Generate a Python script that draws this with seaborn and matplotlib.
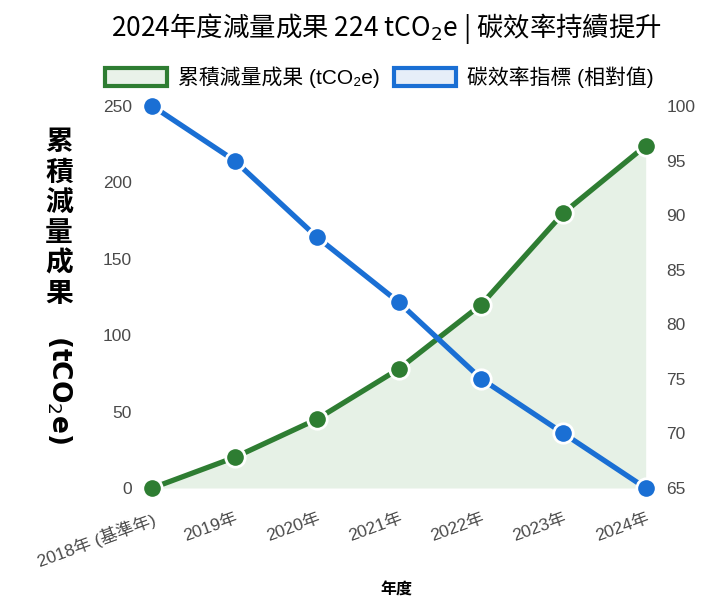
import matplotlib
matplotlib.use("Agg")
import matplotlib.pyplot as plt
from matplotlib.patches import Patch
import seaborn as sns
import pandas as pd

# Data
years = ["2018年 (基準年)", "2019年", "2020年", "2021年", "2022年", "2023年", "2024年"]
reduction = [0, 20, 45, 78, 120, 180, 224]          # cumulative reduction, tCO2e
efficiency = [100, 95, 88, 82, 75, 70, 65]          # carbon efficiency index (relative)
left_ticks = [0, 50, 100, 150, 200, 250]
right_ticks = [65, 70, 75, 80, 85, 90, 95, 100]

GREEN = "#2e7d32"
BLUE = "#1a6fd4"
FILL = "#e6f1e6"
TICK_GRAY = "#4a4a4a"

sns.set_theme(style="white")
CJK = ["Noto Sans CJK TC", "DejaVu Sans"]
LAT = ["Liberation Sans", "Noto Sans CJK TC", "DejaVu Sans"]
plt.rcParams["font.family"] = CJK
plt.rcParams["text.color"] = "black"

df = pd.DataFrame({"year": years, "reduction": reduction, "efficiency": efficiency})

fig = plt.figure(figsize=(7.16, 6.10), dpi=100)
ax = fig.add_axes([140 / 716, 1 - 488 / 610, (658 - 140) / 716, (488 - 106) / 610])
ax2 = ax.twinx()

# Cumulative reduction (left axis) with shaded area
ax.fill_between(range(len(years)), reduction, 0, color=FILL, zorder=1, linewidth=0)
sns.lineplot(data=df, x="year", y="reduction", ax=ax, color=GREEN, linewidth=3.8,
             marker="o", markersize=14, markeredgecolor="white", markeredgewidth=2,
             sort=False, clip_on=False, zorder=3)

# Carbon efficiency index (right axis)
sns.lineplot(data=df, x="year", y="efficiency", ax=ax2, color=BLUE, linewidth=3.8,
             marker="o", markersize=14, markeredgecolor="white", markeredgewidth=2,
             sort=False, clip_on=False, zorder=3)

ax.set_xlim(-0.15, len(years) - 1 + 0.15)
ax.set_ylim(0, 250)
ax2.set_ylim(65, 100)
ax.set_yticks(left_ticks)
ax2.set_yticks(right_ticks)
ax.set_yticklabels([str(v) for v in left_ticks], family=LAT, fontsize=12.5, color=TICK_GRAY)
ax2.set_yticklabels([str(v) for v in right_ticks], family=LAT, fontsize=12.5, color=TICK_GRAY)
ax.set_xticks(range(len(years)))
ax.set_xticklabels(years, family=LAT, fontsize=12.5, color=TICK_GRAY,
                   rotation=20, ha="right", rotation_mode="anchor")
ax.tick_params(axis="y", length=0, pad=6)
ax2.tick_params(axis="y", length=0, pad=6)
ax.tick_params(axis="x", length=0, pad=16)

for a in (ax, ax2):
    for s in a.spines.values():
        s.set_visible(False)
    a.grid(False)
ax.set_ylabel("")
ax2.set_ylabel("")
ax.set_xlabel("")

# Axis titles
fig.text(396 / 716, 1 - 590 / 610, "年度", ha="center", va="center",
         fontsize=11.5, fontweight="bold", family=CJK)
fig.text(59 / 716, 1 - 218 / 610, "\n".join("累積減量成果"), ha="center", va="center",
         fontsize=20, fontweight="bold", family=CJK, linespacing=1.1)
fig.text(59 / 716, 1 - 389 / 610, "(tCO$_{2}$e)", ha="center", va="center",
         rotation=-90, fontsize=19, fontweight="bold", family=["DejaVu Sans"])

# Title
fig.text(386 / 716, 1 - 29 / 610, "2024年度減量成果 224 tCO$_2$e | 碳效率持續提升",
         ha="center", va="center", fontsize=19, family=CJK, color="black")

# Legend
handles = [
    Patch(facecolor="#e9f2e9", edgecolor=GREEN, linewidth=3, label="累積減量成果 (tCO₂e)"),
    Patch(facecolor="#e6eef8", edgecolor=BLUE, linewidth=3, label="碳效率指標 (相對值)"),
]
fig.legend(handles=handles, loc="center", bbox_to_anchor=(379 / 716, 1 - 77 / 610),
           ncol=2, frameon=False, handlelength=3.0, handleheight=0.95,
           columnspacing=0.7, handletextpad=0.5, prop={"family": LAT, "size": 15})

fig.savefig("out.png", dpi=100)
